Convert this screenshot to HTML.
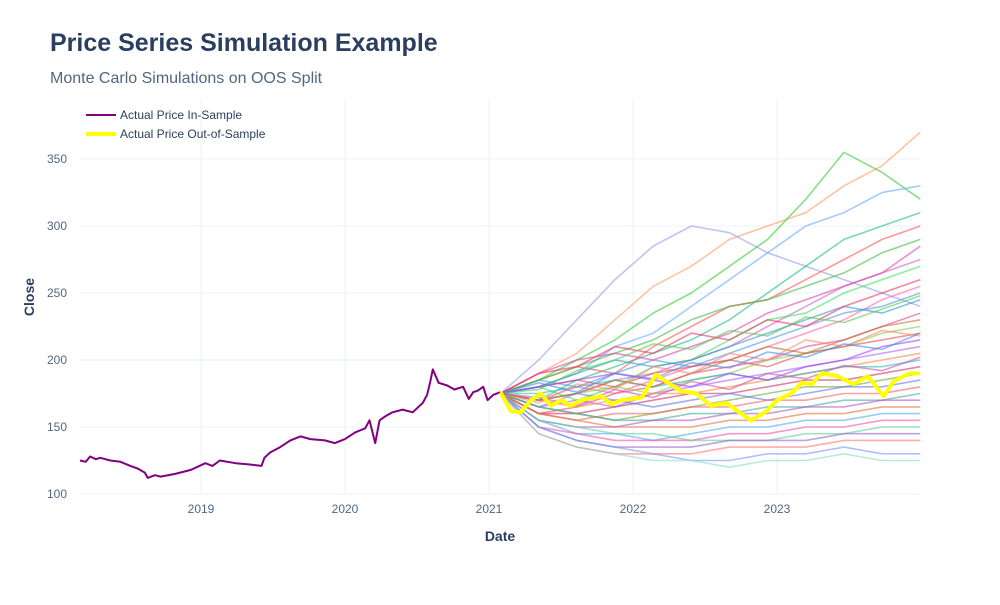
<!DOCTYPE html>
<html><head><meta charset="utf-8">
<style>
body{margin:0;background:#fff;width:1000px;height:600px;overflow:hidden;font-family:"Liberation Sans",sans-serif}
</style></head>
<body>
<svg id="chart" width="1000" height="600" xmlns="http://www.w3.org/2000/svg" font-family="Liberation Sans, sans-serif">
<text x="50" y="51" font-size="25" font-weight="bold" fill="#2a3f5f">Price Series Simulation Example</text>
<text x="50" y="83" font-size="16" fill="#506784">Monte Carlo Simulations on OOS Split</text>
<g id="grid"></g>
<g id="sims"></g>
<g id="actual"></g>
<g id="ticks" font-size="12" fill="#506784"></g>
<text x="500" y="541" font-size="14" font-weight="bold" fill="#2a3f5f" text-anchor="middle">Date</text>
<text transform="translate(34,297) rotate(-90)" font-size="14" font-weight="bold" fill="#2a3f5f" text-anchor="middle">Close</text>
<g>
<g><line x1="86" y1="115" x2="116" y2="115" stroke="#800080" stroke-width="2"/><text x="120" y="119" font-size="12" fill="#2a3f5f">Actual Price In-Sample</text></g>
<g><line x1="86" y1="134" x2="116" y2="134" stroke="#ffff00" stroke-width="4"/><text x="120" y="138" font-size="12" fill="#2a3f5f">Actual Price Out-of-Sample</text></g>
</g>
</svg>
<script>
const yTicks=[100,150,200,250,300,350];
const xTicks=[2019,2020,2021,2022,2023];
const inDates=[2018.16,2018.2,2018.23,2018.27,2018.3,2018.37,2018.44,2018.51,2018.56,2018.61,2018.63,2018.68,2018.72,2018.82,2018.93,2019.03,2019.08,2019.13,2019.24,2019.34,2019.42,2019.44,2019.48,2019.55,2019.62,2019.69,2019.76,2019.86,2019.93,2020.0,2020.07,2020.14,2020.17,2020.21,2020.24,2020.28,2020.33,2020.4,2020.47,2020.54,2020.57,2020.59,2020.61,2020.65,2020.71,2020.76,2020.82,2020.86,2020.89,2020.92,2020.96,2020.99,2021.03,2021.08];
const inValues=[125,124,128,126,127,125,124,121,119,116,112,114,113,115,118,123,121,125,123,122,121,127,131,135,140,143,141,140,138,141,146,149,155,138,155,158,161,163,161,168,174,183,193,183,181,178,180,171,176,177,180,170,174,176];
const oosDates=[2021.08,2021.15,2021.22,2021.29,2021.36,2021.43,2021.5,2021.57,2021.64,2021.78,2021.85,2021.92,2022.06,2022.16,2022.23,2022.33,2022.44,2022.54,2022.65,2022.75,2022.82,2022.93,2023.0,2023.1,2023.17,2023.24,2023.31,2023.42,2023.53,2023.63,2023.74,2023.81,2023.92,2023.99];
const oosValues=[176,162,161,170,175,166,170,166,170,173,167,170,172,189,184,177,175,166,168,160,155,162,170,175,183,182,190,188,182,188,173,184,190,190];
const simDates=[2021.08,2021.345,2021.61,2021.875,2022.14,2022.405,2022.67,2022.935,2023.2,2023.465,2023.73,2023.995];
const sim01=[175,190,205,230,255,270,290,300,310,330,345,370];
const sim02=[175,200,230,260,285,300,295,280,270,260,250,240];
const sim03=[175,185,200,215,235,250,270,290,320,355,340,320];
const sim04=[175,180,190,210,220,240,260,280,300,310,325,330];
const sim05=[175,170,185,195,205,215,230,250,270,290,300,310];
const sim06=[175,185,195,190,210,225,240,245,260,275,290,300];
const sim07=[175,165,175,185,190,200,210,225,240,255,265,275];
const sim08=[175,180,170,180,195,200,215,230,235,250,260,270];
const sim09=[175,170,180,175,185,195,200,210,220,230,245,255];
const sim10=[175,185,180,190,200,195,205,215,225,235,240,250];
const sim11=[175,160,165,175,180,190,195,200,210,215,225,235];
const sim12=[175,170,175,180,175,185,190,200,205,210,220,225];
const sim13=[175,180,185,180,190,195,200,195,205,210,215,220];
const sim14=[175,165,170,165,175,180,185,190,195,200,205,210];
const sim15=[175,170,165,170,175,175,180,185,190,195,200,205];
const sim16=[175,175,180,185,180,185,190,185,190,195,195,200];
const sim17=[175,160,160,165,170,175,175,180,185,185,190,195];
const sim18=[175,165,160,155,160,165,170,175,180,180,185,190];
const sim19=[175,170,175,170,165,170,175,170,175,180,180,185];
const sim20=[175,160,155,160,160,165,165,170,170,175,175,180];
const sim21=[175,165,160,155,155,160,160,165,165,170,170,175];
const sim22=[175,155,150,150,155,155,160,160,165,165,170,170];
const sim23=[175,160,155,150,150,150,155,155,160,160,165,165];
const sim24=[175,155,145,145,140,145,150,150,155,155,160,160];
const sim25=[175,150,145,140,140,140,145,145,150,150,155,155];
const sim26=[175,155,150,145,145,140,140,140,145,145,150,150];
const sim27=[175,150,140,135,135,135,140,140,140,145,145,145];
const sim28=[175,145,135,130,130,130,135,135,135,140,140,140];
const sim29=[175,150,140,135,130,125,125,130,130,135,130,130];
const sim30=[175,145,135,130,125,125,120,125,125,130,125,125];
const sim31=[175,185,195,205,215,230,240,245,255,265,280,290];
const sim32=[175,190,200,205,200,210,220,235,245,255,265,285];
const sim33=[175,180,190,200,195,200,210,220,230,240,235,245];
const sim34=[175,170,175,185,180,190,200,210,205,215,225,230];
const sim35=[175,180,185,190,185,180,190,185,195,200,210,215];
const sim36=[175,190,195,210,205,220,215,230,225,240,250,260];
const sim37=[175,178,192,200,212,208,222,218,232,228,238,248];
const sim38=[175,168,182,178,195,190,205,200,215,210,222,218];
const sim39=[175,183,176,190,186,198,194,206,202,212,208,220];
const sim40=[175,172,166,178,172,184,178,190,186,196,192,202];
const sims=[sim01,sim02,sim03,sim04,sim05,sim06,sim07,sim08,sim09,sim10,sim11,sim12,sim13,sim14,sim15,sim16,sim17,sim18,sim19,sim20,sim21,sim22,sim23,sim24,sim25,sim26,sim27,sim28,sim29,sim30,sim31,sim32,sim33,sim34,sim35,sim36,sim37,sim38,sim39,sim40];
const simColors=["#ff9966","#9999ee","#33cc33","#66aaff","#22bb88","#ff5555","#cc66cc","#44dd66","#ff66aa","#5599dd","#ee4488","#88cc44","#dd5555","#aa66ff","#ff8844","#33bbbb","#cc3366","#77aa33","#6677ee","#ee6666","#44aa99","#bb55cc","#dd7744","#55aaee","#ee55aa","#66cc99","#9966cc","#ff7777","#7799ff","#88ddcc","#44bb44","#dd44aa","#3399cc","#bb7733","#aa44ee","#ee3366","#55cc55","#ff8877","#4488ee","#cc55aa"];
const X0=80,X1=920,Y0=494;
function x(d){return 201+(d-2019)*144;}
function y(v){return Y0-(v-100)*1.34;}
const NS="http://www.w3.org/2000/svg";
function mk(t,a,p){const e=document.createElementNS(NS,t);for(const k in a)e.setAttribute(k,a[k]);p.appendChild(e);return e;}
const grid=document.getElementById('grid'),ticks=document.getElementById('ticks');
yTicks.forEach(v=>{
 const l=mk('line',{x1:X0,x2:X1,y1:y(v),y2:y(v),stroke:'#ebf0f8','stroke-width':1},grid);
 
 
 const t=mk('text',{x:X0-13,y:y(v)+4,'text-anchor':'end'},ticks);t.textContent=v;
 
 
});
xTicks.forEach(d=>{
 const l=mk('line',{x1:x(d),x2:x(d),y1:100,y2:Y0,stroke:'#ebf0f8','stroke-width':1},grid);
 
 
 const t=mk('text',{x:x(d),y:Y0+19,'text-anchor':'middle'},ticks);t.textContent=d;
 
 
});
function pts(ds,vs){return ds.map((d,i)=>x(d).toFixed(1)+','+y(vs[i]).toFixed(1)).join(' ');}
const simG=document.getElementById('sims');
sims.forEach((s,i)=>{
 const p=mk('polyline',{points:pts(simDates,s),fill:'none',stroke:simColors[i],'stroke-width':1.6,'stroke-opacity':0.6,'stroke-linejoin':'round'},simG);
 
 
});
const act=document.getElementById('actual');
const p1=mk('polyline',{points:pts(inDates,inValues),fill:'none',stroke:'#800080','stroke-width':2,'stroke-linejoin':'round'},act);


const p2=mk('polyline',{points:pts(oosDates,oosValues),fill:'none',stroke:'#ffff00','stroke-width':4,'stroke-linejoin':'round'},act);


</script>
</body></html>
